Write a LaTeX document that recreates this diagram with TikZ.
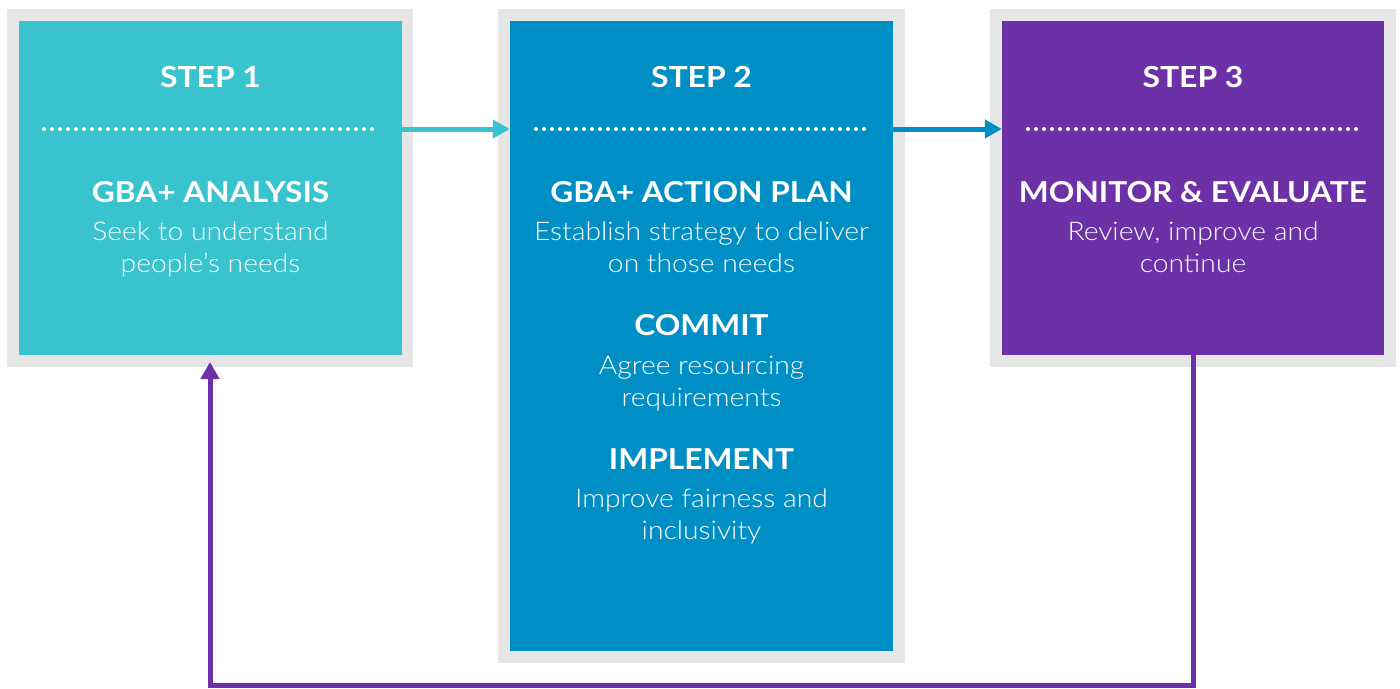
\documentclass[tikz,border=0pt]{standalone}
\usepackage{fontspec}
\setmainfont{Lato}[FakeStretch=1.1]
\newfontfamily\lightfont{Lato Light}[FakeStretch=1.1]
\usetikzlibrary{arrows.meta}
\definecolor{frameGray}{HTML}{E6E6E6}
\definecolor{stepTeal}{HTML}{38C3CF}
\definecolor{stepBlue}{HTML}{008FC4}
\definecolor{stepPurple}{HTML}{6C31A6}
\tikzset{
  frame/.style={fill=frameGray, draw=none, inner sep=0pt},
  panel/.style={fill=#1, draw=none, inner sep=0pt, minimum width=383pt},
  rule/.style={draw=white, line width=4pt, line cap=round, dash pattern=on 0pt off 8pt},
  steptitle/.style={text=white, anchor=base, inner sep=0pt, font=\bfseries\fontsize{29}{32}\selectfont},
  heading/.style={text=white, anchor=base, inner sep=0pt, font=\bfseries\fontsize{28.8}{32}\selectfont},
  bodytext/.style={text=white, anchor=base, inner sep=0pt, font=\lightfont\fontsize{25.7}{32}\selectfont},
  flow/.style={draw=#1, line width=5pt, -{Triangle[length=17pt,width=18pt]}},
}
\begin{document}
\begin{tikzpicture}[x=1pt,y=-1pt]
\useasboundingbox (0,0) rectangle (1400,688);

% grey frames
\node[frame, minimum width=406pt, minimum height=358pt] (f1) at (210,188) {};
\node[frame, minimum width=407pt, minimum height=654pt] (f2) at (701.5,336) {};
\node[frame, minimum width=406pt, minimum height=358pt] (f3) at (1193,188) {};

% coloured panels
\node[panel=stepTeal, minimum height=334pt] (s1) at (210.5,188) {};
\node[panel=stepBlue, minimum height=630pt] (s2) at (701.5,336) {};
\node[panel=stepPurple, minimum width=382pt, minimum height=334pt] (s3) at (1193,188) {};

% dotted rules under the step titles
\coordinate (r1a) at (44,129);   \coordinate (r1b) at (378,129);
\coordinate (r2a) at (536,129);  \coordinate (r2b) at (869,129);
\coordinate (r3a) at (1028,129); \coordinate (r3b) at (1361,129);
\draw[rule] (r1a) -- (r1b);
\draw[rule] (r2a) -- (r2b);
\draw[rule] (r3a) -- (r3b);

% step 1
\node[steptitle] (t1) at (210.5,87) {STEP 1};
\node[heading] (h1) at (210.5,202) {GBA+ ANALYSIS};
\node[bodytext] (b1a) at (210.5,240) {Seek to understand};
\node[bodytext] (b1b) at (210.5,272) {people’s needs};

% step 2
\node[steptitle] (t2) at (701.5,87) {STEP 2};
\node[heading] (h2) at (701.5,202) {GBA+ ACTION PLAN};
\node[bodytext] (b2a) at (701.5,240) {Establish strategy to deliver};
\node[bodytext] (b2b) at (701.5,272) {on those needs};
\node[heading] (h2b) at (701.5,335) {COMMIT};
\node[bodytext] (b2c) at (701.5,374) {Agree resourcing};
\node[bodytext] (b2d) at (701.5,406) {requirements};
\node[heading] (h2c) at (701.5,469) {IMPLEMENT};
\node[bodytext] (b2e) at (701.5,507) {Improve fairness and};
\node[bodytext] (b2f) at (701.5,539) {inclusivity};

% step 3
\node[steptitle] (t3) at (1193,87) {STEP 3};
\node[heading] (h3) at (1193,202) {MONITOR \& EVALUATE};
\node[bodytext] (b3a) at (1193,240) {Review, improve and};
\node[bodytext] (b3b) at (1193,272) {continue};

% forward arrows
\draw[flow=stepTeal] (s1.east |- r1a) -- (s2.west |- r1a);
\draw[flow=stepBlue] (s2.east |- r2a) -- (s3.west |- r2a);

% feedback loop from step 3 back to step 1
\coordinate (low) at (0,685.5);
\coordinate (tip1) at (210,362);
\draw[flow=stepPurple] (s3.south) -- (s3.south |- low) -- (tip1 |- low) -- (tip1);
\end{tikzpicture}
\end{document}
